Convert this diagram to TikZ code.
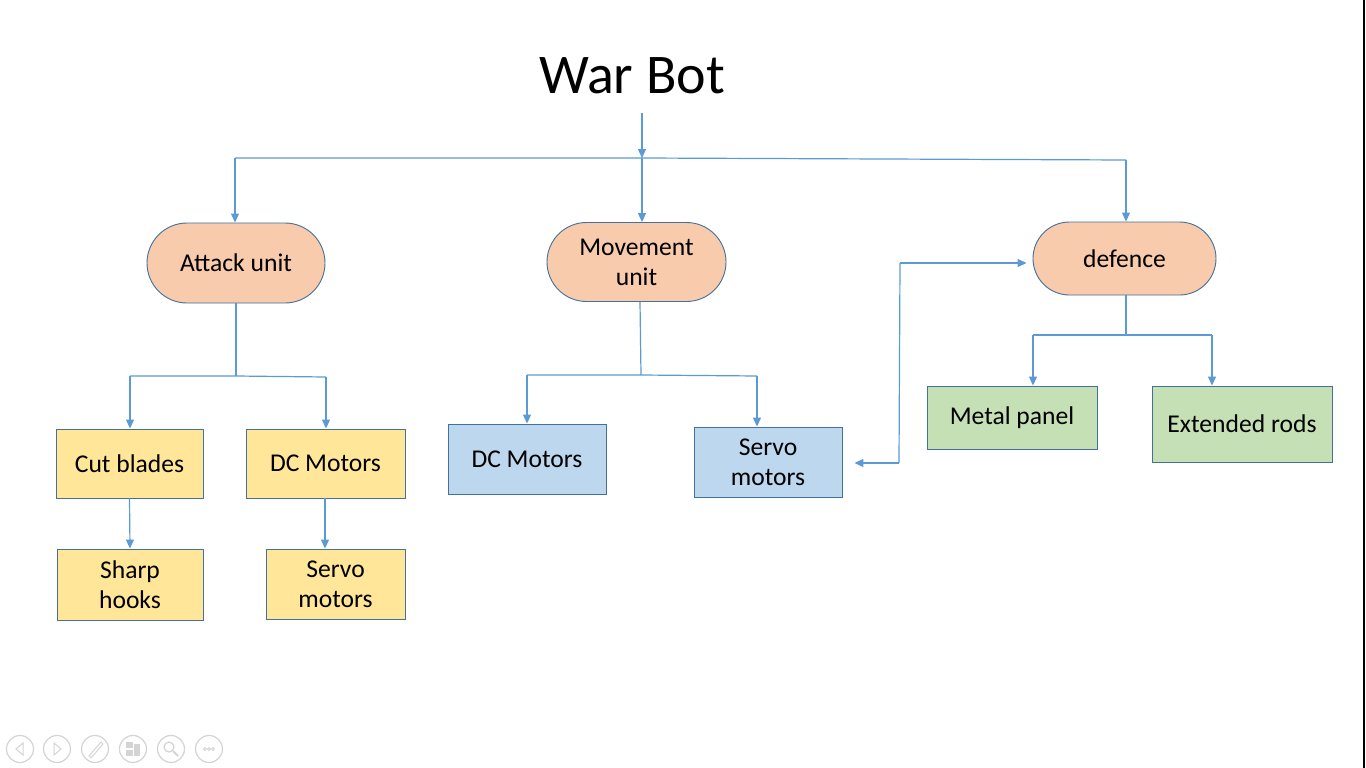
\documentclass[tikz,border=0pt]{standalone}
\usepackage{fontspec}
\setmainfont{Carlito}
\usetikzlibrary{arrows.meta}
\definecolor{lineblue}{HTML}{5B9BD5}
\definecolor{edgeblue}{HTML}{41719C}
\definecolor{pillfill}{HTML}{F8CBAD}
\definecolor{yelfill}{HTML}{FFE699}
\definecolor{bluefill}{HTML}{BDD7EE}
\definecolor{grnfill}{HTML}{C5E0B4}
\definecolor{icongray}{HTML}{D4D4D4}
\tikzset{
  boxtxt/.style={font=\fontsize{25.6}{30}\selectfont, align=center, text=black},
  pill/.style={boxtxt, draw=edgeblue, line width=0.9pt, fill=pillfill, inner sep=0pt},
  yelbox/.style={boxtxt, draw=edgeblue, line width=0.9pt, fill=yelfill, inner sep=0pt},
  bluebox/.style={boxtxt, draw=edgeblue, line width=0.9pt, fill=bluefill, inner sep=0pt},
  grnbox/.style={boxtxt, draw=edgeblue, line width=0.9pt, fill=grnfill, inner sep=0pt},
  conn/.style={draw=lineblue, line width=1.2pt},
  arr/.style={conn, -{Triangle[length=9pt,width=8pt]}},
  icon/.style={draw=icongray, line width=1.2pt},
}
\begin{document}
\begin{tikzpicture}[x=1pt,y=-1pt]
\useasboundingbox (0,0) rectangle (1366,768);
\fill[white] (0,0) rectangle (1366,768);
\draw[black, line width=2pt] (1364,0) -- (1364,768);

% title
\node[anchor=base, font=\fontsize{56}{62}\selectfont, inner sep=0pt] (title) at (632,93) {War Bot};

% level 1
\node[pill, minimum width=178pt, minimum height=80pt, rounded corners=40pt] (attack) at (236,263) {Attack unit};
\node[pill, minimum width=179pt, minimum height=79pt, rounded corners=39.5pt] (move) at (636.5,262) {Movement\\unit};
\node[pill, minimum width=183pt, minimum height=73pt, rounded corners=36.5pt] (def) at (1124.5,258.5) {defence};

% level 2
\node[yelbox, minimum width=147pt, minimum height=69pt] (cut) at (129.5,463.5) {Cut blades};
\node[yelbox, minimum width=159pt, minimum height=69pt] (dc1) at (325.5,463.5) {DC Motors};
\node[yelbox, minimum width=146pt, minimum height=71pt] (hooks) at (130,584.5) {Sharp\\hooks};
\node[yelbox, minimum width=139pt, minimum height=70pt] (servo1) at (335.5,584) {Servo\\motors};
\node[bluebox, minimum width=158pt, minimum height=70pt] (dc2) at (527,459) {DC Motors};
\node[bluebox, minimum width=148pt, minimum height=70pt] (servo2) at (768,462) {Servo\\motors};
\node[grnbox, minimum width=170pt, minimum height=63pt] (metal) at (1012,417.5) {Metal panel};
\node[grnbox, minimum width=180pt, minimum height=76pt] (rods) at (1242,424) {Extended rods};

% junction coordinates
\coordinate (t0) at (642,113);
\coordinate (tj) at (642,158);
\coordinate (tl) at (235,158);
\coordinate (tr) at (1126,160);
\coordinate (aj) at (236,376);
\coordinate (al) at (130,376);
\coordinate (ar) at (326,377);
\coordinate (mj) at (641,375);
\coordinate (ml) at (527,375);
\coordinate (mr) at (757,376);
\coordinate (dj) at (1126,335);
\coordinate (dl) at (1033,335);
\coordinate (dr) at (1212,335);
\coordinate (lt) at (900,263);
\coordinate (lb) at (899,463);

% top distribution
\draw[arr] (t0) -- (tj);
\draw[conn] (tl) -- (tj) -- (tr);
\draw[arr] (tl) -- (attack.north -| tl);
\draw[arr] (tj) -- (move.north -| tj);
\draw[arr] (tr) -- (def.north -| tr);

% attack branch
\draw[conn] (attack.south) -- (aj);
\draw[conn] (al) -- (aj) -- (ar);
\draw[arr] (al) -- (cut.north -| al);
\draw[arr] (ar) -- (dc1.north -| ar);
\draw[arr] (cut.south) -- (hooks.north);
\draw[arr] (dc1.south -| 325,0) -- (servo1.north -| 325,0);

% movement branch
\draw[conn] (move.south -| 640,0) -- (mj);
\draw[conn] (ml) -- (mj) -- (mr);
\draw[arr] (ml) -- (dc2.north -| ml);
\draw[arr] (mr) -- (servo2.north -| mr);

% defence branch
\draw[conn] (def.south -| dj) -- (dj);
\draw[conn] (dl) -- (dj) -- (dr);
\draw[arr] (dl) -- (metal.north -| dl);
\draw[arr] (dr) -- (rods.north -| dr);

% loop between servo motors and defence
\draw[arr] (lt) -- ([xshift=-6pt]def.west |- lt);
\draw[conn] (lt) -- (lb);
\draw[arr] (lb) -- ([xshift=12pt]servo2.east |- lb);

% presentation controls
\foreach \cx in {20,57,95,133,171,209} {\draw[icon] (\cx,749) circle (13.5);}
\draw[icon, line width=1pt] (23,743) -- (16,749) -- (23,755) -- cycle;
\draw[icon, line width=1pt] (54,743) -- (61,749) -- (54,755) -- cycle;
\draw[icon, line width=1pt] (89,756) -- (101,742) -- (103,744) -- (91,758) -- cycle;
\fill[icongray] (126,742) rectangle (133,748);
\fill[icongray] (126,750) rectangle (133,756);
\fill[icongray] (134,744) rectangle (140,756);
\draw[icon, line width=1.2pt] (169,747) circle (5);
\draw[icon, line width=1.8pt] (173,751) -- (178,756);
\foreach \dx in {-4,0,4} {\draw[icongray, line width=0.8pt] (209+\dx,749) circle (1.5);}
\end{tikzpicture}
\end{document}
